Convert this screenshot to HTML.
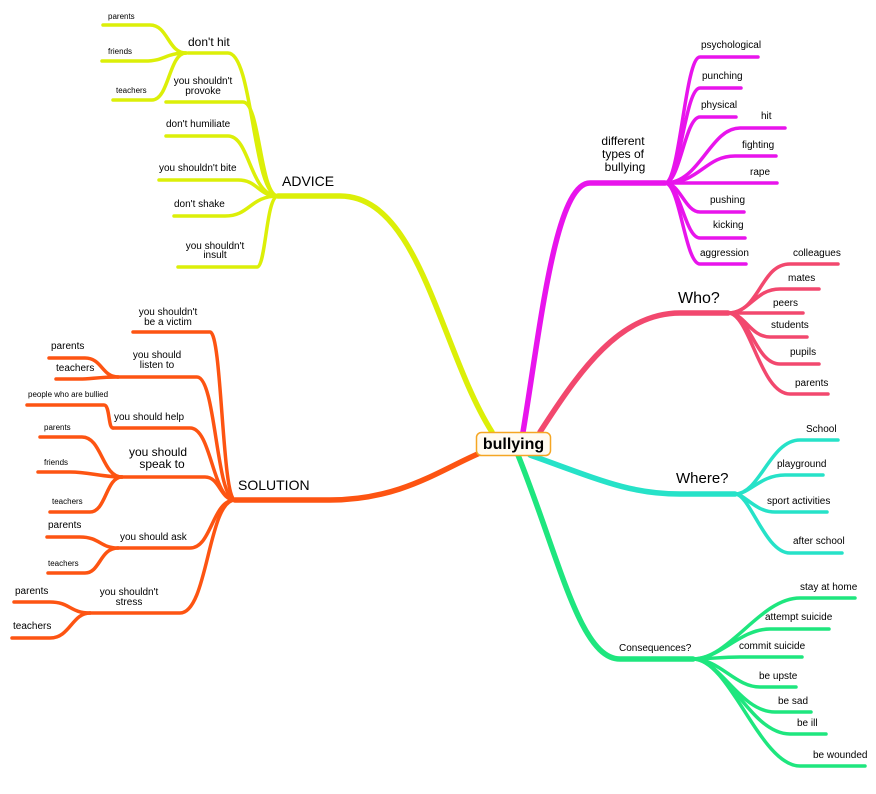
<!DOCTYPE html>
<html><head><meta charset="utf-8"><style>
html,body{margin:0;padding:0;background:#fff;}
svg{display:block;font-family:"Liberation Sans",Arial,sans-serif;}
.y{stroke:#dcef08;fill:none;stroke-linecap:round}
.o{stroke:#fd5412;fill:none;stroke-linecap:round}
.m{stroke:#e814ec;fill:none;stroke-linecap:round}
.p{stroke:#f2486e;fill:none;stroke-linecap:round}
.c{stroke:#26e2c8;fill:none;stroke-linecap:round}
.g{stroke:#1ee67e;fill:none;stroke-linecap:round}
.k{stroke-width:3.5}
.M{stroke-width:5.5}
text{fill:#000;font-size:10px}
.s{font-size:8px}
</style></head><body>
<svg width="876" height="794" viewBox="0 0 876 794">
<!-- ADVICE -->
<path class="y M" d="M278 196 H340 C420 196 440 350 492 432"/>
<path class="y k" d="M278 196 C253 196 253 53 228 53 H188"/>
<path class="y k" d="M278 196 C260 196 260 102 243 102 H166"/>
<path class="y k" d="M278 196 C250 196 250 136 228 136 H166"/>
<path class="y k" d="M278 196 C258 196 258 180 238 180 H159"/>
<path class="y k" d="M278 196 C250 196 250 216 225 216 H174"/>
<path class="y k" d="M278 196 C266 196 266 267 257 267 H178"/>
<path class="y k" d="M186 53 C168 53 168 25 150 25 H103"/>
<path class="y k" d="M186 53 C165 53 165 61 145 61 H102"/>
<path class="y k" d="M186 53 C169 53 169 100 152 100 H113"/>
<text x="282" y="186" style="font-size:14px">ADVICE</text>
<text x="188" y="46" style="font-size:12px">don't hit</text>
<text x="203" y="84" text-anchor="middle">you  shouldn't</text>
<text x="203" y="94" text-anchor="middle">provoke</text>
<text x="166" y="127">don't humiliate</text>
<text x="159" y="171">you shouldn't bite</text>
<text x="174" y="207">don't shake</text>
<text x="215" y="249" text-anchor="middle">you  shouldn't</text>
<text x="215" y="258" text-anchor="middle">insult</text>
<text x="108" y="19" class="s">parents</text>
<text x="108" y="54" class="s">friends</text>
<text x="116" y="93" class="s">teachers</text>
<!-- SOLUTION -->
<path class="o M" d="M235 500 H330 C400 500 440 470 480 453"/>
<path class="o k" d="M235 500 C222 500 222 332 210 332 H133"/>
<path class="o k" d="M235 500 C216 500 216 377 197 377 H118"/>
<path class="o k" d="M235 500 C212 500 212 428 190 428 H113"/>
<path class="o k" d="M113 428 C108 428 110 405 104 405 H27"/>
<path class="o k" d="M235 500 C220 500 220 477 205 477 H122"/>
<path class="o k" d="M235 500 C212 500 212 548 190 548 H118"/>
<path class="o k" d="M235 500 C208 500 208 613 180 613 H90"/>
<path class="o k" d="M118 377 C102 377 102 358 85 358 H49"/>
<path class="o k" d="M118 377 C100 377 90 379 80 379 H56"/>
<path class="o k" d="M122 477 C102 477 102 437 82 437 H40"/>
<path class="o k" d="M122 477 C100 477 90 472 70 472 H38"/>
<path class="o k" d="M122 477 C106 477 106 512 90 512 H50"/>
<path class="o k" d="M118 548 C100 548 100 537 80 537 H47"/>
<path class="o k" d="M118 548 C100 548 100 573 85 573 H48"/>
<path class="o k" d="M90 613 C70 613 70 602 50 602 H14"/>
<path class="o k" d="M90 613 C72 613 70 638 50 638 H12"/>
<text x="238" y="490" style="font-size:14px">SOLUTION</text>
<text x="168" y="315" text-anchor="middle">you  shouldn't</text>
<text x="168" y="325" text-anchor="middle">be  a  victim</text>
<text x="157" y="358" text-anchor="middle">you  should</text>
<text x="157" y="368" text-anchor="middle">listen  to</text>
<text x="114" y="420">you should help</text>
<text x="158" y="456" text-anchor="middle" style="font-size:12px">you  should</text>
<text x="162" y="468" text-anchor="middle" style="font-size:12px">speak  to</text>
<text x="120" y="540">you should ask</text>
<text x="129" y="595" text-anchor="middle">you  shouldn't</text>
<text x="129" y="605" text-anchor="middle">stress</text>
<text x="51" y="349">parents</text>
<text x="56" y="371">teachers</text>
<text x="28" y="397" class="s">people who are bullied</text>
<text x="44" y="430" class="s">parents</text>
<text x="44" y="465" class="s">friends</text>
<text x="52" y="504" class="s">teachers</text>
<text x="48" y="528">parents</text>
<text x="48" y="566" class="s">teachers</text>
<text x="15" y="594">parents</text>
<text x="13" y="629">teachers</text>
<!-- different types -->
<path class="m M" d="M523 432 C540 330 555 183 590 183 H665"/>
<path class="m k" d="M665 183 C680 183 685 57 700 57 H758"/>
<path class="m k" d="M665 183 C680 183 685 88 700 88 H741"/>
<path class="m k" d="M665 183 C680 183 685 117 700 117 H736"/>
<path class="m k" d="M665 183 C700 183 710 128 740 128 H785"/>
<path class="m k" d="M665 183 C700 183 705 156 735 156 H776"/>
<path class="m k" d="M665 183 H777"/>
<path class="m k" d="M665 183 C680 183 685 212 700 212 H744"/>
<path class="m k" d="M665 183 C680 183 685 238 700 238 H745"/>
<path class="m k" d="M665 183 C680 183 685 264 700 264 H746"/>
<text x="623" y="145" text-anchor="middle" style="font-size:12px">different</text>
<text x="623" y="158" text-anchor="middle" style="font-size:12px">types  of</text>
<text x="625" y="171" text-anchor="middle" style="font-size:12px">bullying</text>
<text x="701" y="48">psychological</text>
<text x="702" y="79">punching</text>
<text x="701" y="108">physical</text>
<text x="761" y="119">hit</text>
<text x="742" y="148">fighting</text>
<text x="750" y="175">rape</text>
<text x="710" y="203">pushing</text>
<text x="713" y="228">kicking</text>
<text x="700" y="256">aggression</text>
<!-- Who -->
<path class="p M" d="M540 432 C580 370 620 313 680 313 H728"/>
<path class="p k" d="M728 313 C760 313 760 264 790 264 H838"/>
<path class="p k" d="M728 313 C750 313 755 289 780 289 H819"/>
<path class="p k" d="M728 313 H803"/>
<path class="p k" d="M728 313 C745 313 750 337 770 337 H807"/>
<path class="p k" d="M728 313 C750 313 755 364 780 364 H819"/>
<path class="p k" d="M728 313 C750 313 760 394 790 394 H828"/>
<text x="678" y="303" style="font-size:16px">Who?</text>
<text x="793" y="256">colleagues</text>
<text x="788" y="281">mates</text>
<text x="773" y="306">peers</text>
<text x="771" y="328">students</text>
<text x="790" y="355">pupils</text>
<text x="795" y="386">parents</text>
<!-- Where -->
<path class="c M" d="M530 455 C600 480 630 494 680 494 H735"/>
<path class="c k" d="M735 494 C760 494 770 440 800 440 H838"/>
<path class="c k" d="M735 494 C750 494 760 475 785 475 H823"/>
<path class="c k" d="M735 494 C745 494 755 512 775 512 H827"/>
<path class="c k" d="M735 494 C750 494 765 553 790 553 H842"/>
<text x="676" y="483" style="font-size:15px">Where?</text>
<text x="806" y="432">School</text>
<text x="777" y="467">playground</text>
<text x="767" y="504">sport activities</text>
<text x="793" y="544">after school</text>
<!-- Consequences -->
<path class="g M" d="M518 455 C560 560 580 659 620 659 H693"/>
<path class="g k" d="M693 659 C730 659 760 598 800 598 H855"/>
<path class="g k" d="M693 659 C720 659 740 629 770 629 H829"/>
<path class="g k" d="M693 659 C710 659 720 657 740 657 H802"/>
<path class="g k" d="M693 659 C720 659 735 687 760 687 H796"/>
<path class="g k" d="M693 659 C720 659 740 712 775 712 H811"/>
<path class="g k" d="M693 659 C725 659 750 734 790 734 H826"/>
<path class="g k" d="M693 659 C730 659 760 766 800 766 H865"/>
<text x="619" y="651">Consequences?</text>
<text x="800" y="590">stay at home</text>
<text x="765" y="620">attempt suicide</text>
<text x="739" y="649">commit suicide</text>
<text x="759" y="679">be upste</text>
<text x="778" y="704">be sad</text>
<text x="797" y="726">be ill</text>
<text x="813" y="758">be wounded</text>
<!-- center -->
<rect x="476.5" y="432.5" width="74" height="23" rx="5" fill="#fffbf2" stroke="#f5a623" stroke-width="1.5"/>
<text x="513.5" y="449" text-anchor="middle" style="font-size:16px;font-weight:bold">bullying</text>
</svg>
</body></html>
